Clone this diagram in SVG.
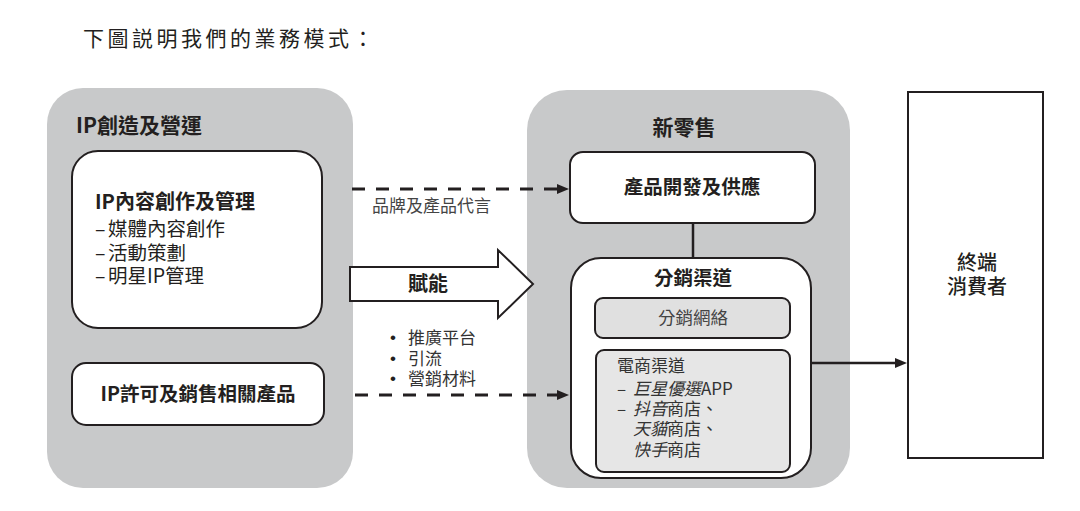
<svg xmlns="http://www.w3.org/2000/svg" width="1080" height="511" viewBox="0 0 1080 511">
  <defs>
    <style>
      text { font-family: "Noto Sans CJK TC", "Noto Sans", sans-serif; fill: #231f20; }
      .title { font-family: "Liberation Serif", "Noto Sans CJK TC", serif; font-size: 21px; letter-spacing: 3.5px; }
      .panel { fill: #c8c9ca; }
      .box { fill: #ffffff; stroke: #231f20; stroke-width: 2; }
      .sub { fill: #e3e3e3; stroke: #231f20; stroke-width: 2; }
      .h { font-weight: bold; font-size: 20px; }
      .item { font-size: 19.5px; }
      .small { font-size: 17px; fill: #333333; }
      .bullet { font-family: "Liberation Sans", sans-serif; font-size: 17px; fill: #231f20; text-anchor: middle; }
      .gray { fill: #444444; }
      .mid { text-anchor: middle; }
      .it { font-style: italic; }
      .dash { fill: none; stroke: #231f20; stroke-width: 3; stroke-dasharray: 13 11; }
      .solid { fill: none; stroke: #231f20; stroke-width: 2.5; }
    </style>
    <marker id="arrow" markerUnits="userSpaceOnUse" markerWidth="12" markerHeight="10" refX="2" refY="5" orient="auto">
      <path d="M0,0 L12,5 L0,10 Z" fill="#231f20"/>
    </marker>
  </defs>

  <rect width="1080" height="511" fill="#ffffff"/>

  <text class="title" x="83" y="46">下圖説明我們的業務模式：</text>

  <g id="panel-ip">
    <rect class="panel" x="47" y="88" width="306" height="400" rx="36"/>
    <text class="h" x="76" y="133" style="font-size:21px">IP創造及營運</text>
  </g>

  <g id="node-ip-content">
    <rect class="box" x="72" y="151" width="250" height="177" rx="26"/>
    <text class="h" x="95" y="209">IP內容創作及管理</text>
    <text class="item" x="95" y="236">–<tspan x="108">媒體內容創作</tspan></text>
    <text class="item" x="95" y="260">–<tspan x="108">活動策劃</tspan></text>
    <text class="item" x="95" y="283">–<tspan x="108">明星IP管理</tspan></text>
  </g>

  <g id="node-ip-license">
    <rect class="box" x="72" y="363" width="252" height="62" rx="14"/>
    <text class="h mid" x="198" y="401" style="font-size:19.5px">IP許可及銷售相關產品</text>
  </g>

  <g id="panel-retail">
    <rect class="panel" x="527" y="90" width="323" height="398" rx="40"/>
    <text class="h mid" x="684" y="135" style="font-size:21px">新零售</text>
  </g>

  <g id="node-product">
    <rect class="box" x="570" y="152" width="245" height="71" rx="13"/>
    <text class="h mid" x="692" y="194" style="font-size:19.5px">產品開發及供應</text>
  </g>

  <g id="node-distribution">
    <rect class="box" x="571" y="258" width="240" height="220" rx="30"/>
    <text class="h mid" x="693" y="285" style="font-size:19.5px">分銷渠道</text>
  </g>

  <g id="node-network">
    <rect class="sub" x="595" y="298" width="195" height="40" rx="8" style="fill:#e0e0e0"/>
    <text class="mid gray" x="693" y="324" style="font-size:17.5px">分銷網絡</text>
  </g>

  <g id="node-ecommerce">
    <rect class="sub" x="596" y="350" width="194" height="122" rx="8" style="fill:#e6e6e6"/>
    <text class="small" x="617" y="372">電商渠道</text>
    <text class="small" x="617" y="395">–<tspan x="633" class="it">巨星優選</tspan><tspan>APP</tspan></text>
    <text class="small" x="617" y="415">–<tspan x="633" class="it">抖音</tspan><tspan>商店、</tspan></text>
    <text class="small" x="633" y="435"><tspan class="it">天貓</tspan><tspan>商店、</tspan></text>
    <text class="small" x="633" y="456"><tspan class="it">快手</tspan><tspan>商店</tspan></text>
  </g>

  <g id="node-consumer">
    <rect class="box" x="908" y="92" width="135" height="366"/>
    <text class="mid" x="977" y="270" style="font-size:20px;font-weight:500">終端</text>
    <text class="mid" x="977" y="294" style="font-size:20px;font-weight:500">消費者</text>
  </g>

  <g id="connectors">
    <line class="dash" x1="352" y1="189" x2="559" y2="189" marker-end="url(#arrow)"/>
    <text class="small" x="372" y="212" style="fill:#444444">品牌及產品代言</text>

    <polygon points="350,267 498,267 498,250 533,284 498,318 498,301 350,301" fill="#ffffff" stroke="#231f20" stroke-width="2" stroke-linejoin="miter"/>
    <text class="h mid" x="428" y="291">賦能</text>
    <text class="bullet" x="393" y="343">•</text>
    <text class="small" x="408" y="344">推廣平台</text>
    <text class="bullet" x="393" y="363.5">•</text>
    <text class="small" x="408" y="364.5">引流</text>
    <text class="bullet" x="393" y="383.5">•</text>
    <text class="small" x="408" y="384.5">營銷材料</text>

    <line class="dash" x1="355" y1="395" x2="559" y2="395" marker-end="url(#arrow)"/>

    <line class="solid" x1="693" y1="223" x2="693" y2="258"/>
    <line class="solid" x1="811" y1="363" x2="897" y2="363" marker-end="url(#arrow)"/>
  </g>
</svg>
